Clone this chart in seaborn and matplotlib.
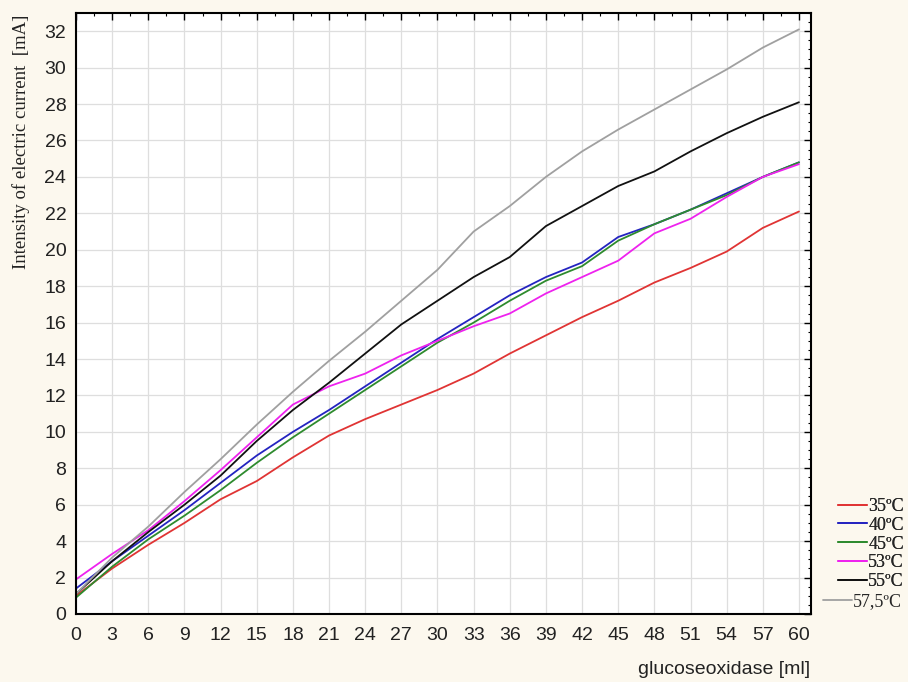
import matplotlib
matplotlib.use("Agg")
import matplotlib.pyplot as plt
from matplotlib.ticker import MultipleLocator
import seaborn as sns
import pandas as pd

x_ml = [0, 3, 6, 9, 12, 15, 18, 21, 24, 27, 30, 33, 36, 39, 42, 45, 48, 51, 54, 57, 60]
t35 = [1.0, 2.5, 3.8, 5.0, 6.3, 7.3, 8.6, 9.8, 10.7, 11.5, 12.3, 13.2, 14.3, 15.3, 16.3, 17.2, 18.2, 19.0, 19.9, 21.2, 22.1]
t40 = [1.4, 2.9, 4.3, 5.7, 7.2, 8.7, 10.0, 11.2, 12.5, 13.8, 15.1, 16.3, 17.5, 18.5, 19.3, 20.7, 21.4, 22.2, 23.1, 24.0, 24.8]
t45 = [0.9, 2.6, 4.1, 5.4, 6.8, 8.3, 9.7, 11.0, 12.3, 13.6, 14.9, 16.0, 17.2, 18.3, 19.1, 20.5, 21.4, 22.2, 23.0, 24.0, 24.8]
t53 = [1.9, 3.3, 4.6, 6.2, 7.9, 9.7, 11.5, 12.5, 13.2, 14.2, 15.0, 15.8, 16.5, 17.6, 18.5, 19.4, 20.9, 21.7, 22.9, 24.0, 24.7]
t55 = [1.1, 2.9, 4.5, 6.0, 7.6, 9.5, 11.2, 12.7, 14.3, 15.9, 17.2, 18.5, 19.6, 21.3, 22.4, 23.5, 24.3, 25.4, 26.4, 27.3, 28.1]
t575 = [1.1, 3.1, 4.8, 6.7, 8.5, 10.4, 12.2, 13.9, 15.5, 17.2, 18.9, 21.0, 22.4, 24.0, 25.4, 26.6, 27.7, 28.8, 29.9, 31.1, 32.1]
labels = ["35ºC", "40ºC", "45ºC", "53ºC", "55ºC", "57,5ºC"]
series = [t35, t40, t45, t53, t55, t575]
colors = ["#e03434", "#2424c0", "#2e8b2e", "#ee22ee", "#111111", "#a0a0a0"]

rows = []
for lab, vals in zip(labels, series):
    for xv, yv in zip(x_ml, vals):
        rows.append({"x": xv, "y": yv, "T": lab})
df = pd.DataFrame(rows)

sns.set_style("white")
bg = "#fcf8ee"
fig = plt.figure(figsize=(9.08, 6.82), dpi=100, facecolor=bg)
ax = fig.add_axes([76/908, 1-614/682, (811-76)/908, (614-13)/682])
ax.set_facecolor("white")

sns.lineplot(data=df, x="x", y="y", hue="T", palette=dict(zip(labels, colors)),
             hue_order=labels, ax=ax, linewidth=1.3, legend=False, sort=False)

ax.set_xlim(0, 61)
ax.set_ylim(0, 33)
ax.xaxis.set_major_locator(MultipleLocator(3))
ax.xaxis.set_minor_locator(MultipleLocator(1.5))
ax.yaxis.set_major_locator(MultipleLocator(2))
ax.yaxis.set_minor_locator(MultipleLocator(0.5))
ax.grid(True, which="major", color="#dedede", linewidth=0.9)
ax.tick_params(which="both", direction="in", top=True, right=True, color="black")
ax.tick_params(which="major", length=5, width=1.0, labelsize=14, pad=7, labelcolor="#222222")
ax.tick_params(axis="x", which="major", pad=9)
ax.tick_params(which="minor", length=2.5, width=0.8)
ax.tick_params(axis="both", labelfontfamily="Liberation Sans")
for s in ax.spines.values():
    s.set_color("black")
    s.set_linewidth(1.5)

ax.set_xlabel("")
ax.set_ylabel("")
fig.text(21/908, 1-15/682, "Intensity of electric current  [mA]", family="Liberation Serif",
         fontsize=13.5, rotation=90, ha="center", va="top", color="#222222")
fig.text(810/908, 1-670/682, "glucoseoxidase [ml]", family="Liberation Sans", fontsize=14,
         ha="right", va="center", color="#222222")

# legend: first five entries, then the last one shifted left as in the original
handles = [plt.Line2D([0], [0], color=c, lw=1.3) for c in colors]
prop = {"family": "Liberation Serif", "size": 13}
leg1 = fig.legend(handles[:5], labels[:5], loc="upper left", bbox_to_anchor=(838/908, 1-498/682),
                  frameon=False, prop=prop, handlelength=1.6, handletextpad=0.08,
                  labelspacing=0.1, borderpad=0, borderaxespad=0)
leg2 = fig.legend(handles[5:], labels[5:], loc="upper left", bbox_to_anchor=(823/908, 1-593/682),
                  frameon=False, prop=prop, handlelength=1.6, handletextpad=0.08,
                  labelspacing=0.1, borderpad=0, borderaxespad=0)
fig.add_artist(leg1)

fig.savefig("out.png", dpi=100, facecolor=bg)
